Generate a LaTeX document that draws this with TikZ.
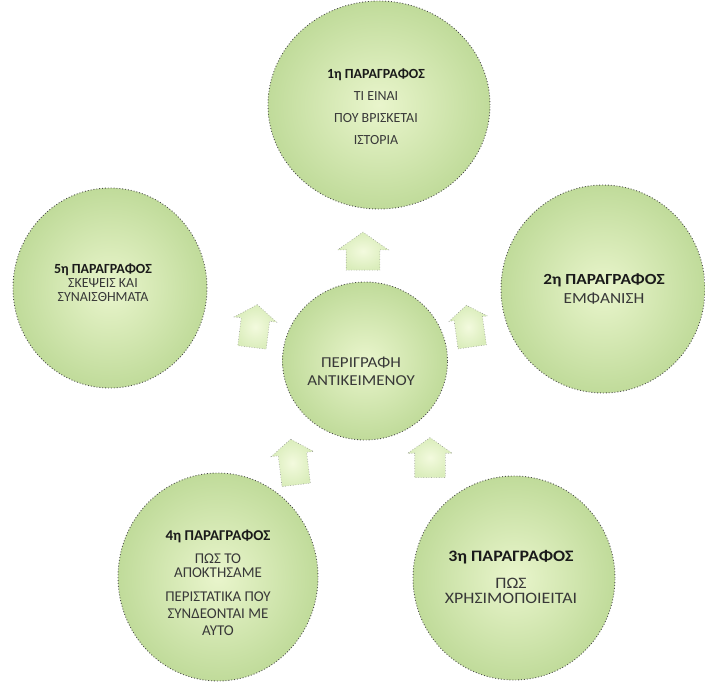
\documentclass[tikz,border=0pt]{standalone}
\usepackage{fontspec}
\setmainfont{Carlito}
\newfontfamily\widefont[FakeStretch=1.12]{Carlito}
\usetikzlibrary{shapes.geometric,shapes.arrows}
\definecolor{gin}{HTML}{E9F5CC}
\definecolor{gout}{HTML}{C0DB9A}
\definecolor{ain}{HTML}{F3FADE}
\definecolor{aout}{HTML}{DAEDBB}
\definecolor{txt}{HTML}{383838}
\definecolor{hd}{HTML}{1A1A1A}
\begin{document}
\begin{tikzpicture}[x=1bp,y=-1bp,
  para/.style={ellipse, draw=black!70, dotted, line width=0.9pt,
    inner color=gin, outer color=gout, inner sep=0pt},
  pointer/.style={single arrow, draw=black!45, dotted, line width=0.6pt,
    inner color=ain, outer color=aout, inner xsep=0pt, inner ysep=15bp,
    minimum height=42bp, single arrow head extend=7bp,
    single arrow tip angle=110},
  lbl/.style={align=center, text=txt, inner sep=0pt}
]
\useasboundingbox (0,0) rectangle (705,684);

% circles
\node[para, minimum width=222bp, minimum height=208bp] (c1) at (379,105) {};
\node[para, minimum width=204bp, minimum height=208bp] (c2) at (603,289) {};
\node[para, minimum width=202bp, minimum height=204bp] (c3) at (514,578) {};
\node[para, minimum width=200bp, minimum height=208bp] (c4) at (218,577) {};
\node[para, minimum width=194bp, minimum height=200bp] (c5) at (110,288) {};
\node[para, minimum width=165bp, minimum height=158bp] (c0) at (365,361) {};

% arrows
\node[pointer, rotate=90, minimum height=38bp, inner ysep=16.5bp,
      single arrow head extend=8.5bp] (a1) at (363,257) {};
\node[pointer, rotate=98, inner ysep=14bp, single arrow head extend=5bp] (a2) at (470,331) {};
\node[pointer, rotate=90, minimum height=40bp] (a3) at (430,463) {};
\node[pointer, rotate=97, minimum height=46bp, inner ysep=14bp] (a4) at (294,467) {};
\node[pointer, rotate=83, minimum height=43bp, inner ysep=14bp] (a5) at (254,331) {};

% texts
\node[lbl, font=\fontsize{14}{15}\selectfont] (t1) at (376,107)
  {{\bfseries\color{hd}1η ΠΑΡΑΓΡΑΦΟΣ}\\[7bp]ΤΙ ΕΙΝΑΙ\\[7bp]ΠΟΥ ΒΡΙΣΚΕΤΑΙ\\[7bp]ΙΣΤΟΡΙΑ};
\node[lbl, font=\widefont\fontsize{15.5}{19}\selectfont] (t2) at (604,289)
  {{\bfseries\color{hd}2η ΠΑΡΑΓΡΑΦΟΣ}\\ΕΜΦΑΝΙΣΗ};
\node[lbl, font=\widefont\fontsize{16}{15}\selectfont] (t3) at (511,577)
  {{\bfseries\color{hd}3η ΠΑΡΑΓΡΑΦΟΣ}\\[12bp]ΠΩΣ\\ΧΡΗΣΙΜΟΠΟΙΕΙΤΑΙ};
\node[lbl, font=\fontsize{15}{14}\selectfont] (t4) at (218,583)
  {{\bfseries\color{hd}4η ΠΑΡΑΓΡΑΦΟΣ}\\[9bp]ΠΩΣ ΤΟ\\ΑΠΟΚΤΗΣΑΜΕ\\[10bp]ΠΕΡΙΣΤΑΤΙΚΑ ΠΟΥ\\[3bp]ΣΥΝΔΕΟΝΤΑΙ ΜΕ\\[3bp]ΑΥΤΟ};
\node[lbl, font=\fontsize{14}{14}\selectfont] (t5) at (103,283)
  {{\bfseries\color{hd}5η ΠΑΡΑΓΡΑΦΟΣ}\\ΣΚΕΨΕΙΣ ΚΑΙ\\ΣΥΝΑΙΣΘΗΜΑΤΑ};
\node[lbl, font=\widefont\fontsize{15.2}{18}\selectfont] (t0) at (361,371)
  {ΠΕΡΙΓΡΑΦΗ\\ΑΝΤΙΚΕΙΜΕΝΟΥ};
\end{tikzpicture}
\end{document}
